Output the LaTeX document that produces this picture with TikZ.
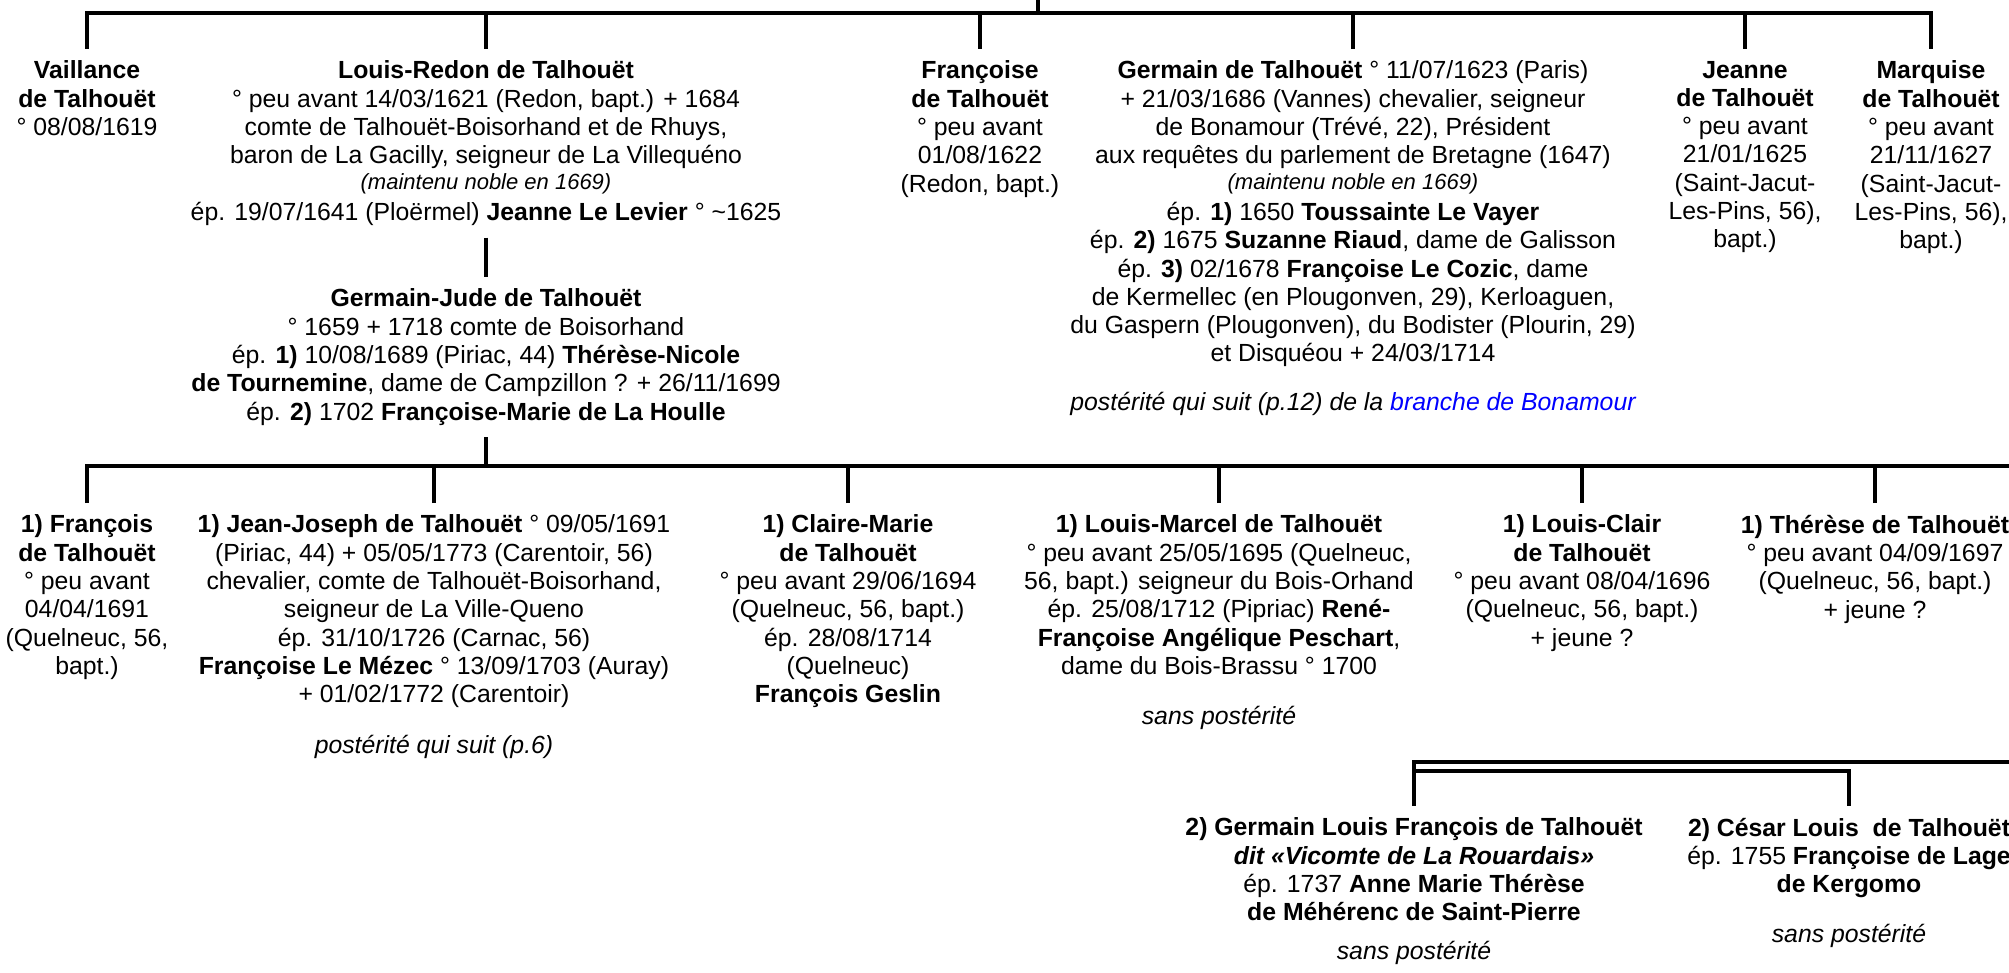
\documentclass[tikz,border=0pt]{standalone}
\usepackage{fontspec}
\setmainfont{Liberation Sans}
\tikzset{every picture/.style={line width=1.6pt}}
\tikzset{
person/.style={anchor=north, align=center, inner sep=0pt, outer sep=6pt,
  font=\fontsize{12.4}{14.15}\selectfont}}

\begin{document}
\begin{tikzpicture}[x=0.5pt,y=0.5pt,yscale=-1,xscale=1]
\useasboundingbox (0,0) rectangle (2009,973);

% Text Node
\node [person] (vaillance) at (87,49) {\textbf{Vaillance}\\
\textbf{de Talhouët}\\
° 08/08/1619};
% Text Node
\node [person] (louisredon) at (486,49) {\textbf{Louis-Redon de Talhouët}\\
° peu avant 14/03/1621 (Redon, bapt.) + 1684\\
comte de Talhouët-Boisorhand et de Rhuys,\\
baron de La Gacilly, seigneur de La Villequéno\\[-1.5pt]
{\fontsize{11}{13}\selectfont\itshape (maintenu noble en 1669)}\\[1.5pt]
ép. 19/07/1641 (Ploërmel) \textbf{Jeanne Le Levier} ° \textasciitilde1625};
% Text Node
\node [person] (germainjude) at (486,277) {\textbf{Germain-Jude de Talhouët}\\
° 1659 + 1718 comte de Boisorhand\\
ép. \textbf{1)} 10/08/1689 (Piriac, 44) \textbf{Thérèse-Nicole}\\
\textbf{de Tournemine}, dame de Campzillon ? + 26/11/1699\\
ép. \textbf{2)} 1702 \textbf{Françoise-Marie de La Houlle}};
% Text Node
\node [person] (francoise) at (980,49) {\textbf{Françoise}\\
\textbf{de Talhouët}\\
° peu avant\\
01/08/1622\\
(Redon, bapt.)};
% Text Node
\node [person] (germain) at (1353,49) {\textbf{Germain de Talhouët} ° 11/07/1623 (Paris)\\
+ 21/03/1686 (Vannes) chevalier, seigneur\\
de Bonamour (Trévé, 22), Président\\
aux requêtes du parlement de Bretagne (1647)\\[-1.5pt]
{\fontsize{11}{13}\selectfont\itshape (maintenu noble en 1669)}\\[1.5pt]
ép. \textbf{1)} 1650 \textbf{Toussainte Le Vayer}\\
ép. \textbf{2)} 1675 \textbf{Suzanne Riaud}, dame de Galisson\\
ép. \textbf{3)} 02/1678 \textbf{Françoise Le Cozic}, dame\\
de Kermellec (en Plougonven, 29), Kerloaguen,\\
du Gaspern (Plougonven), du Bodister (Plourin, 29)\\
et Disquéou + 24/03/1714\\[10pt]
\textit{postérité qui suit (p.12) de la \textcolor{blue}{branche de Bonamour}}};
% Text Node
\node [person] (jeanne) at (1745,49) {\textbf{Jeanne}\\
\textbf{de Talhouët}\\
° peu avant\\
21/01/1625\\
(Saint-Jacut-\\
Les-Pins, 56),\\
bapt.)};
% Text Node
\node [person] (marquise) at (1931,49) {\textbf{Marquise}\\
\textbf{de Talhouët}\\
° peu avant\\
21/11/1627\\
(Saint-Jacut-\\
Les-Pins, 56),\\
bapt.)};

% Text Node
\node [person] (francois) at (87,503) {\textbf{1) François}\\
\textbf{de Talhouët}\\
° peu avant\\
04/04/1691\\
(Quelneuc, 56,\\
bapt.)};
% Text Node
\node [person] (jeanjoseph) at (434,503) {\textbf{1) Jean-Joseph de Talhouët} ° 09/05/1691\\
(Piriac, 44) + 05/05/1773 (Carentoir, 56)\\
chevalier, comte de Talhouët-Boisorhand,\\
seigneur de La Ville-Queno\\
ép. 31/10/1726 (Carnac, 56)\\
\textbf{Françoise Le Mézec} ° 13/09/1703 (Auray)\\
+ 01/02/1772 (Carentoir)\\[11pt]
\textit{postérité qui suit (p.6)}};
% Text Node
\node [person] (clairemarie) at (848,503) {\textbf{1) Claire-Marie}\\
\textbf{de Talhouët}\\
° peu avant 29/06/1694\\
(Quelneuc, 56, bapt.)\\
ép. 28/08/1714\\
(Quelneuc)\\
\textbf{François Geslin}};
% Text Node
\node [person] (louismarcel) at (1219,503) {\textbf{1) Louis-Marcel de Talhouët}\\
° peu avant 25/05/1695 (Quelneuc,\\
56, bapt.) seigneur du Bois-Orhand\\
ép. 25/08/1712 (Pipriac) \textbf{René-}\\
\textbf{Françoise Angélique Peschart},\\
dame du Bois-Brassu ° 1700\\[11pt]
\textit{sans postérité}};
% Text Node
\node [person] (louisclair) at (1582,503) {\textbf{1) Louis-Clair}\\
\textbf{de Talhouët}\\
° peu avant 08/04/1696\\
(Quelneuc, 56, bapt.)\\
+ jeune ?};
% Text Node
\node [person] (therese) at (1875,503) {\textbf{1) Thérèse de Talhouët}\\
° peu avant 04/09/1697\\
(Quelneuc, 56, bapt.)\\
+ jeune ?};

% Text Node
\node [person] (germainlouis) at (1414,806) {\textbf{2) Germain Louis François de Talhouët}\\
\textbf{\textit{dit «Vicomte de La Rouardais»}}\\
ép. 1737 \textbf{Anne Marie Thérèse}\\
\textbf{de Méhérenc de Saint-Pierre}\\[5pt]
\textit{sans postérité}};
% Text Node
\node [person] (cesar) at (1849,806) {\textbf{2) César Louis~ de Talhouët}\\
ép. 1755 \textbf{Françoise de Lage}\\
\textbf{de Kergomo}\\[10.5pt]
\textit{sans postérité}};

\coordinate (parent) at (1038,0);
\coordinate (bar1) at (1038,13);
\coordinate (bar2) at (2009,466);
\coordinate (bar3) at (2009,762);
\coordinate (bar4) at (1600,771);

%Straight Lines
\draw (parent) -- (bar1);
%Straight Lines
\draw (vaillance.north) |- (marquise.north |- bar1) -- (marquise.north);
%Straight Lines
\draw (louisredon.north) -- (louisredon.north |- bar1);
%Straight Lines
\draw (francoise.north) -- (francoise.north |- bar1);
%Straight Lines
\draw (germain.north) -- (germain.north |- bar1);
%Straight Lines
\draw (jeanne.north) -- (jeanne.north |- bar1);
%Straight Lines
\draw (louisredon.south) -- (germainjude.north);
%Straight Lines
\draw (germainjude.south) -- (germainjude.south |- bar2);
%Straight Lines
\draw (francois.north) |- (bar2);
%Straight Lines
\draw (jeanjoseph.north) -- (jeanjoseph.north |- bar2);
%Straight Lines
\draw (clairemarie.north) -- (clairemarie.north |- bar2);
%Straight Lines
\draw (louismarcel.north) -- (louismarcel.north |- bar2);
%Straight Lines
\draw (louisclair.north) -- (louisclair.north |- bar2);
%Straight Lines
\draw (therese.north) -- (therese.north |- bar2);
%Straight Lines
\draw (bar3) -| (germainlouis.north);
%Straight Lines
\draw (germainlouis.north |- bar4) -| (cesar.north);

\end{tikzpicture}
\end{document}
